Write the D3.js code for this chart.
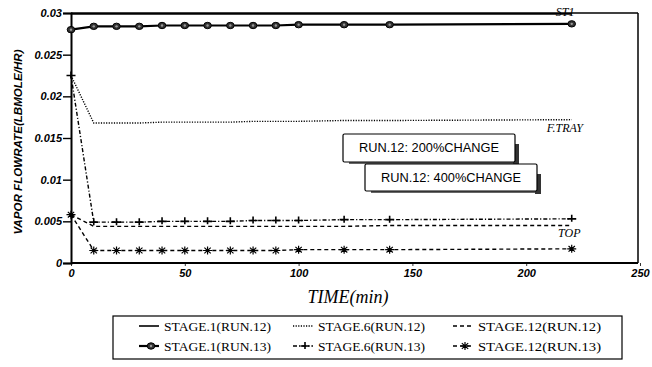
<!DOCTYPE html>
<html><head><meta charset="utf-8">
<script src="https://cdn.jsdelivr.net/npm/d3@7"></script>
<style>html,body{margin:0;padding:0;background:#fff;}svg{display:block;}</style>
</head><body>
<script>
const times = [0,10,20,30,40,50,60,70,80,90,100,120,140,220];
const stage1Run12 = [0.0299,0.0299,0.0299,0.0299,0.0299,0.0299,0.0299,0.0299,0.0299,0.0299,0.0299,0.0299,0.0299,0.0299];
const stage1Run13 = [0.0280,0.0284,0.0284,0.0284,0.0285,0.0285,0.0285,0.0285,0.0285,0.0285,0.0286,0.0286,0.0286,0.0287];
const stage6Run12 = [0.0225,0.0168,0.0168,0.0168,0.0169,0.0169,0.0169,0.0169,0.0170,0.0170,0.0170,0.0171,0.0171,0.0172];
const stage6Run13 = [0.0225,0.0049,0.0049,0.0049,0.0050,0.0050,0.0050,0.0050,0.0051,0.0051,0.0051,0.0052,0.0052,0.0053];
const stage12Run12 = [0.0058,0.0044,0.0044,0.0044,0.0044,0.0044,0.0044,0.0044,0.0044,0.0044,0.0044,0.0044,0.0045,0.0045];
const stage12Run13 = [0.0058,0.0015,0.0015,0.0015,0.0015,0.0015,0.0015,0.0015,0.0015,0.0015,0.0016,0.0016,0.0016,0.0017];
const xTicks = [0,50,100,150,200,250];
const yTicks = [0,0.005,0.01,0.015,0.02,0.025,0.03];
const yTickLabels = ["0","0.005","0.01","0.015","0.02","0.025","0.03"];
const seriesNames = ["STAGE.1(RUN.12)","STAGE.6(RUN.12)","STAGE.12(RUN.12)","STAGE.1(RUN.13)","STAGE.6(RUN.13)","STAGE.12(RUN.13)"];
const notes = ["RUN.12: 200%CHANGE","RUN.12: 400%CHANGE"];
const curveLabels = ["ST1","F.TRAY","TOP"];

const W=652,H=367;
const svg=d3.select("body").append("svg").attr("width",W).attr("height",H);
const x=d3.scaleLinear().domain([0,250]).range([71,640]);
const y=d3.scaleLinear().domain([0,0.03]).range([263,13]);

const series=[
 {vals:stage1Run12,dash:null,w:1.6,mk:null},
 {vals:stage6Run12,dash:"1.2,1.4",w:1.4,mk:null},
 {vals:stage12Run12,dash:"4,3",w:1.4,mk:null},
 {vals:stage1Run13,dash:null,w:2.2,mk:"circle"},
 {vals:stage6Run13,dash:"4,2,1.2,2",w:1.4,mk:"plus"},
 {vals:stage12Run13,dash:"4,3",w:1.4,mk:"star"}
];

// frame
const g=svg.append("g");
g.append("line").attr("x1",x(0)).attr("x2",638).attr("y1",y(0.03)).attr("y2",y(0.03)).attr("stroke","#000").attr("stroke-width",1.5);
g.append("line").attr("x1",638).attr("x2",638).attr("y1",y(0.03)).attr("y2",y(0)).attr("stroke","#000").attr("stroke-width",1.5);

// axes
const yAxis=d3.axisLeft(y).tickValues(yTicks).tickFormat((d,i)=>yTickLabels[i]).tickSize(8).tickPadding(1);
const ya=svg.append("g").attr("transform",`translate(${x(0)},0)`).call(yAxis);
ya.select(".domain").attr("stroke-width",2);
ya.selectAll(".tick line").attr("stroke-width",1.4);
ya.selectAll("text").attr("font-family","Liberation Sans").attr("font-style","italic").attr("font-weight","bold").attr("font-size",11).attr("fill","#000");

const xAxis=d3.axisBottom(x).tickValues(xTicks).tickSize(3).tickPadding(3);
const xa=svg.append("g").attr("transform",`translate(0,${y(0)})`).call(xAxis);
xa.select(".domain").attr("d",`M${x(0)},0H638`).attr("stroke-width",2.2);
xa.selectAll(".tick line").attr("stroke-width",0.8);
xa.selectAll("text").attr("font-family","Liberation Sans").attr("font-style","italic").attr("font-weight","bold").attr("font-size",11).attr("fill","#000");

// lines
const line=d3.line().x((d,i)=>x(times[i])).y(d=>y(d));
series.forEach(s=>{
  svg.append("path").attr("d",line(s.vals)).attr("fill","none").attr("stroke","#000")
   .attr("stroke-width",s.w).attr("stroke-dasharray",s.dash);
});

function drawMarker(sel,type,cx,cy){
  if(type==="circle"){
    sel.append("ellipse").attr("cx",cx).attr("cy",cy).attr("rx",3.8).attr("ry",3.2).attr("fill","#333").attr("stroke","#000").attr("stroke-width",1);
    sel.append("circle").attr("cx",cx).attr("cy",cy).attr("r",1.2).attr("fill","#999");
  } else if(type==="plus"){
    sel.append("path").attr("d",`M${cx-4.5},${cy}H${cx+4.5}M${cx},${cy-4}V${cy+3}`).attr("stroke","#000").attr("stroke-width",1.6);
  } else if(type==="star"){
    let d="";
    for(let k=0;k<4;k++){const a=k*Math.PI/4;d+=`M${cx-4.5*Math.cos(a)},${cy-4*Math.sin(a)}L${cx+4.5*Math.cos(a)},${cy+4*Math.sin(a)}`;}
    sel.append("path").attr("d",d).attr("stroke","#000").attr("stroke-width",1.2);
  }
}
series.forEach(s=>{
  if(!s.mk) return;
  const mg=svg.append("g");
  s.vals.forEach((v,i)=>drawMarker(mg,s.mk,x(times[i]),y(v)));
});

// curve labels
const lab=svg.append("g").attr("font-family","Liberation Serif").attr("font-style","italic").attr("font-size",12).attr("fill","#000");
lab.append("text").attr("x",x(213)).attr("y",y(0.0296)).text(curveLabels[0]);
lab.append("text").attr("x",x(209)).attr("y",y(0.0157)).text(curveLabels[1]);
lab.append("text").attr("x",x(214)).attr("y",y(0.0031)).text(curveLabels[2]);

// annotation boxes
function noteBox(bx,by,bw,bh,txt){
  const ng=svg.append("g");
  ng.append("rect").attr("x",bx+6).attr("y",by+bh-3).attr("width",bw-2).attr("height",5).attr("fill","#666");
  ng.append("rect").attr("x",bx+bw-2).attr("y",by+10).attr("width",6).attr("height",bh-7).attr("fill","#333");
  ng.append("rect").attr("x",bx).attr("y",by).attr("width",bw).attr("height",bh).attr("fill","#fff").attr("stroke","#000").attr("stroke-width",1.2).attr("rx",1.5);
  ng.append("text").attr("x",bx+bw/2).attr("y",by+bh/2+4).attr("text-anchor","middle")
    .attr("font-family","Liberation Sans Narrow, Liberation Sans").attr("font-size",12).attr("textLength",140).attr("lengthAdjust","spacingAndGlyphs").text(txt);
}
noteBox(343,134,172,28,notes[0]);
noteBox(365,164,172,27,notes[1]);

// axis titles
svg.append("text").attr("transform","translate(22,142) rotate(-90)").attr("text-anchor","middle")
  .attr("font-family","Liberation Sans").attr("font-style","italic").attr("font-weight","bold").attr("font-size",10)
  .attr("textLength",185).attr("lengthAdjust","spacingAndGlyphs").text("VAPOR FLOWRATE(LBMOLE/HR)");
svg.append("text").attr("x",348).attr("y",303).attr("text-anchor","middle")
  .attr("font-family","Liberation Serif").attr("font-style","italic").attr("font-size",18).text("TIME(min)");

// legend
const lg=svg.append("g");
lg.append("rect").attr("x",113).attr("y",316).attr("width",509).attr("height",43).attr("fill","#fff").attr("stroke","#000").attr("stroke-width",1.2);
const colX=[139,293,453], rowY=[326,346];
series.forEach((s,i)=>{
  const c=i%3, r=Math.floor(i/3);
  const sx=colX[c], sy=rowY[r];
  lg.append("line").attr("x1",sx).attr("x2",sx+20).attr("y1",sy).attr("y2",sy).attr("stroke","#000").attr("stroke-width",s.w).attr("stroke-dasharray",s.dash);
  if(s.mk) drawMarker(lg,s.mk,sx+12,sy);
  lg.append("text").attr("x",sx+25).attr("y",sy+4.5).attr("font-family","Liberation Serif").attr("font-size",13)
    .attr("textLength",c===2?123:107).attr("lengthAdjust","spacingAndGlyphs").text(seriesNames[i]);
});
</script>
</body></html>
